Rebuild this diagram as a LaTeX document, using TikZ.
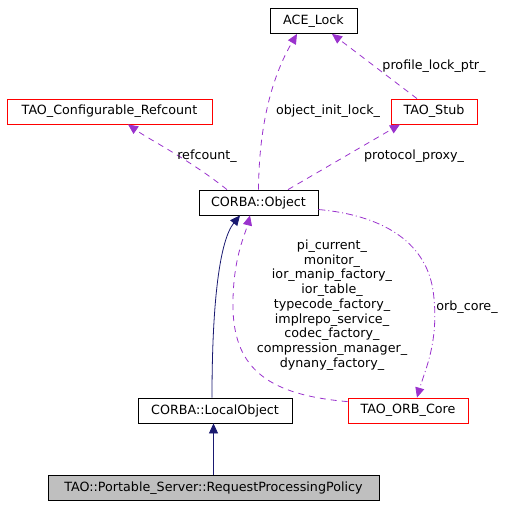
\documentclass[tikz,border=0pt]{standalone}
\usepackage{fontspec}
\setmainfont{DejaVu Sans}
\usepackage{xcolor}
\usetikzlibrary{arrows.meta,positioning,calc}

\definecolor{edgepurple}{RGB}{154,50,205}
\definecolor{edgenavy}{RGB}{25,25,112}

\begin{document}
\begin{tikzpicture}[
    x=1pt, y=-1pt,
    font=\fontsize{12.7}{14.75}\selectfont,
    klass/.style={rectangle, draw=black, line width=0.8pt, minimum height=25pt, inner sep=2pt, text centered},
    extklass/.style={klass, draw=red},
    mainklass/.style={klass, fill=black!25},
    member/.style={-{Triangle[length=10pt,width=9pt]}, draw=edgepurple, line width=0.8pt, dash pattern=on 6pt off 5pt},
    memberdot/.style={member, dash pattern=on 7pt off 3pt on 1pt off 3pt},
    inherit/.style={-{Triangle[length=10pt,width=9pt]}, draw=edgenavy, line width=0.8pt},
    lbl/.style={font=\fontsize{12.7}{14.75}\selectfont, align=center}
]
    \useasboundingbox (0,0) rectangle (515,507);

    % Classes
    \node[klass, minimum width=87pt] (acelock) at (313.5,21) {ACE\_Lock};
    \node[extklass, minimum width=205pt] (refcount) at (109.5,111.5) {TAO\_Configurable\_Refcount};
    \node[extklass, minimum width=86pt] (stub) at (434,111.5) {TAO\_Stub};
    \node[klass, minimum width=119pt] (object) at (258.5,202.5) {CORBA::Object};
    \node[klass, minimum width=154pt] (localobj) at (215,410.5) {CORBA::LocalObject};
    \node[extklass, minimum width=120pt] (orbcore) at (408,410.5) {TAO\_ORB\_Core};
    \node[mainklass, minimum width=331pt] (policy) at (213.5,488) {TAO::Portable\_Server::RequestProcessingPolicy};

    % Members
    \draw[member] (object.north) .. controls (259,130) and (270,80) .. ([xshift=-16.5pt]acelock.south);
    \draw[member] ([xshift=-17pt]stub.north) -- ([xshift=18.5pt]acelock.south);
    \draw[member] ([xshift=-31.5pt]object.north) .. controls (190,160) and (150,140) .. ([xshift=18.5pt]refcount.south);
    \draw[member] ([xshift=29.5pt]object.north) -- ([xshift=-34pt]stub.south);
    \draw[memberdot] ([yshift=-7pt]object.east) .. controls (380,215) and (425,240) .. (433,290)
        .. controls (440,340) and (425,370) .. ([xshift=9pt]orbcore.north);
    \draw[member] ([yshift=-4pt]orbcore.north west) .. controls (270,395) and (235,370) .. (233,310)
        .. controls (232,260) and (245,235) .. ([xshift=-8.5pt]object.south);

    % Inheritance
    \draw[inherit] ([xshift=-3pt]localobj.north) .. controls (212,300) and (220,240) .. ([xshift=-18.5pt]object.south);
    \draw[inherit] (policy.north) -- (policy.north |- localobj.south);

    % Labels
    \node[lbl] (lblinit) at (328,111) {object\_init\_lock\_};
    \node[lbl] (lbllock) at (434,66) {profile\_lock\_ptr\_};
    \node[lbl] (lblref) at (207,156) {refcount\_};
    \node[lbl] (lblproxy) at (414,156) {protocol\_proxy\_};
    \node[lbl] (lblorb) at (467,307) {orb\_core\_};
    \node[lbl] (lblmany) at (332,305) {pi\_current\_\\monitor\_\\ior\_manip\_factory\_\\ior\_table\_\\typecode\_factory\_\\implrepo\_service\_\\codec\_factory\_\\compression\_manager\_\\dynany\_factory\_};
\end{tikzpicture}
\end{document}
